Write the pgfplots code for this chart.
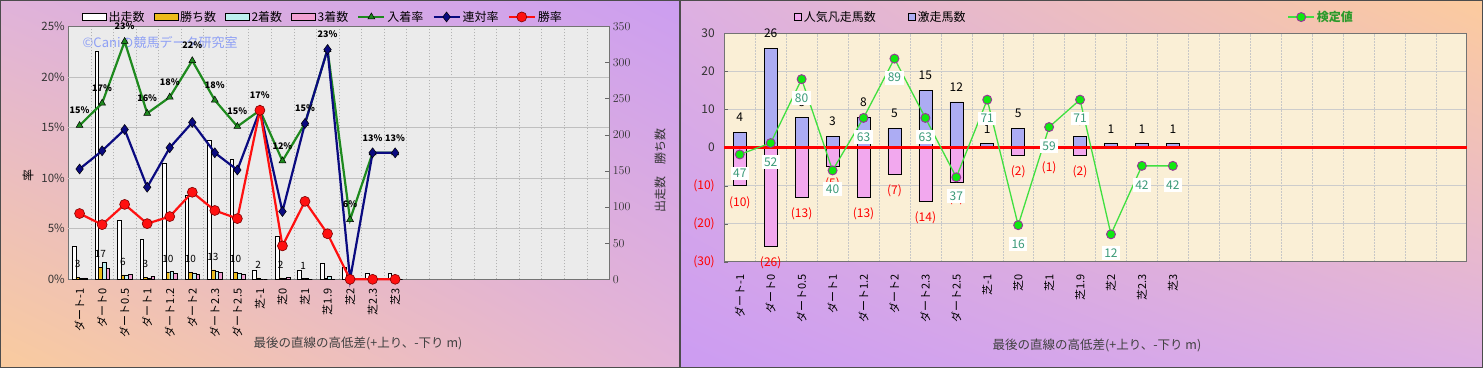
\documentclass[border=0pt]{standalone}
\usepackage{fontspec}
\setmainfont{Noto Sans CJK JP}
\usepackage{pgfplots}
\pgfplotsset{compat=1.18}
\usepackage{pgfplotstable}
\usetikzlibrary{shadings}

\definecolor{plotgrey}{HTML}{EBEBEB}
\definecolor{cream}{HTML}{FAEFD6}
\definecolor{barGold}{HTML}{EDBB1A}
\definecolor{barCyan}{HTML}{BDEFEF}
\definecolor{barPink}{HTML}{F2A0D2}
\definecolor{lnGreen}{HTML}{1E8A1E}
\definecolor{lnNavy}{HTML}{0A0A80}
\definecolor{lnRed}{HTML}{FF1010}
\definecolor{wm}{HTML}{8FA0F5}
\definecolor{kLine}{HTML}{40E040}
\definecolor{kFill}{HTML}{10E810}
\definecolor{kEdge}{HTML}{993399}
\definecolor{kText}{HTML}{3A9A78}
\definecolor{bBlue}{HTML}{ACACF3}
\definecolor{bPink}{HTML}{F2A8EE}
\definecolor{lgGreen}{HTML}{2A9A2A}
\definecolor{tickgrey}{HTML}{333333}
\definecolor{lpUL}{HTML}{E0B3DA}
\definecolor{lpUR}{HTML}{CC9EF0}
\definecolor{lpLL}{HTML}{F9CB9E}
\definecolor{lpLR}{HTML}{E4B4D8}
\definecolor{rpUL}{HTML}{DDB0E2}
\definecolor{rpUR}{HTML}{FCCB9E}
\definecolor{rpLL}{HTML}{CC9CF2}
\definecolor{rpLR}{HTML}{DEB0E4}

\pgfplotsset{
  barleg/.style={legend image code/.code={\draw[##1] (0pt,-3.5pt) rectangle (24pt,3.5pt);}},
  sqleg/.style={legend image code/.code={\draw[##1] (0pt,-3.5pt) rectangle (7pt,3.5pt);}},
  lineleg/.style={legend image code/.code={\draw[mark repeat=2,mark phase=2,##1] plot coordinates {(0pt,0pt) (13pt,0pt) (26pt,0pt)};}},
}

\pgfplotstableread{
x starts wins second third winr rentai inchaku wl il
0 46 3 2 2 6.5 10.9 15.2 3 15
1 316 17 23 15 5.4 12.7 17.4 17 17
2 81 6 6 7 7.4 14.8 23.5 6 23
3 55 3 2 4 5.5 9.1 16.4 3 16
4 161 10 11 8 6.2 13.0 18.0 10 18
5 116 10 8 7 8.6 15.5 21.6 10 22
6 192 13 11 10 6.8 12.5 17.7 13 18
7 166 10 8 7 6.0 10.8 15.1 10 15
8 12 2 0 0 16.7 16.7 16.7 2 17
9 60 2 2 3 3.3 6.7 11.7 2 12
10 13 1 1 0 7.7 15.4 15.4 1 15
11 22 1 4 0 4.5 22.7 22.7 {} 23
12 17 0 0 1 0 0 5.9 {} 6
13 8 0 1 0 0 12.5 12.5 {} 13
14 8 0 1 0 0 12.5 12.5 {} 13
}\leftdata

\pgfplotstableread{
x gekiso bonso kentei gl bl
0 4 10 47 4 (10)
1 26 26 52 26 (26)
2 8 13 80 8 (13)
3 3 5 40 3 (5)
4 8 13 63 8 (13)
5 5 7 89 5 (7)
6 15 14 63 15 (14)
7 12 9 37 12 (9)
8 1 0 71 1 {}
9 5 2 16 5 (2)
10 0 1 59 {} (1)
11 3 2 71 3 (2)
12 1 0 12 1 {}
13 1 0 42 1 {}
14 1 0 42 1 {}
}\rightdata

\begin{document}
\begin{tikzpicture}
\path[use as bounding box] (0pt,0pt) rectangle (1483pt,369pt);
\shade[upper left=lpUL, upper right=lpUR, lower left=lpLL, lower right=lpLR] (0pt,1pt) rectangle (679pt,368pt);
\draw[black!70, line width=1pt] (0.5pt,1pt) rectangle (679pt,368pt);
\shade[upper left=rpUL, upper right=rpUR, lower left=rpLL, lower right=rpLR] (680pt,1pt) rectangle (1482.5pt,368pt);
\draw[black!70, line width=1pt] (680pt,1pt) rectangle (1482.5pt,368pt);

% ---------------- left chart: bars (counts, right axis)
\begin{axis}[
  at={(68.3pt,89.7pt)}, anchor=south west, scale only axis,
  width=541pt, height=253pt,
  xmin=-0.5, xmax=23.5, ymin=0, ymax=350,
  axis background/.style={fill=plotgrey},
  axis line style={draw=black!55, line width=0.8pt},
  xtick={0,...,14},
  xticklabels={ダート-1,ダート0,ダート0.5,ダート1,ダート1.2,ダート2,ダート2.3,ダート2.5,芝-1,芝0,芝1,芝1.9,芝2,芝2.3,芝3},
  xticklabel style={rotate=90, anchor=east, font=\fontsize{11}{12}\selectfont, text=black},
  x tick style={draw=none},
  xticklabel shift=2pt,
  minor xtick={0.5,1.5,...,22.5},
  xminorgrids=true,
  minor x grid style={black!30, dash pattern=on 1.5pt off 1.5pt},
  ytick={0,50,...,350},
  ytick pos=right, yticklabel pos=right,
  y tick style={draw=black!60},
  tick align=inside, major tick length=4pt,
  yticklabel style={font=\fontsize{11.5}{12}\selectfont, text=tickgrey},
  extra y ticks={70,140,210,280},
  extra y tick labels={},
  extra y tick style={grid=major, major grid style={black!25, line width=0.6pt}, major tick length=0pt},
  ylabel={出走数　勝ち数},
  ylabel style={at={(axis description cs:1.094,0.432)}, anchor=center, font=\fontsize{12}{12}\selectfont, text=tickgrey},
  xlabel={最後の直線の高低差(+上り、-下り m)},
  xlabel style={at={(axis description cs:0.5355,-0.2518)}, anchor=center, font=\fontsize{12.5}{13}\selectfont, text=black!75},
  ybar=0pt, bar width=0.163,
]
\addplot[fill=white, draw=black, line width=0.5pt] table[x=x, y=starts]{\leftdata};
\addplot[fill=barGold, draw=black, line width=0.4pt,
  nodes near coords, point meta=explicit symbolic,
  every node near coord/.append style={anchor=south, yshift=6pt, font=\fontsize{10}{10}\selectfont, text=black}]
  table[x=x, y=wins, meta=wl]{\leftdata};
\addplot[fill=barCyan, draw=black, line width=0.4pt] table[x=x, y=second]{\leftdata};
\addplot[fill=barPink, draw=black, line width=0.4pt] table[x=x, y=third]{\leftdata};
\node[anchor=west, text=wm, font=\fontsize{13}{13}\selectfont] at (rel axis cs:0.02,0.934) {©Caniの競馬データ研究室};
\end{axis}

% ---------------- left chart: rates (left axis)
\begin{axis}[
  at={(68.3pt,89.7pt)}, anchor=south west, scale only axis,
  width=541pt, height=253pt,
  xmin=-0.5, xmax=23.5, ymin=0, ymax=25,
  axis line style={draw=none},
  xtick=\empty,
  ytick={0,5,...,25}, yticklabels={0\%,5\%,10\%,15\%,20\%,25\%},
  ytick pos=left, major tick length=0pt,
  yticklabel style={font=\fontsize{11.5}{12}\selectfont, text=tickgrey},
  ylabel={率},
  ylabel style={at={(axis description cs:-0.0745,0.412)}, anchor=center, font=\fontsize{12}{12}\selectfont},
  clip=false,
  lineleg,
  legend columns=7,
  legend style={at={(axis description cs:0.471,1.037)}, anchor=center, draw=none, fill=none,
    font=\fontsize{12}{12}\selectfont, inner sep=0pt,
    /tikz/every even column/.append style={column sep=7pt}},
]
\addlegendimage{barleg, fill=white, draw=black}
\addlegendentry{出走数}
\addlegendimage{barleg, fill=barGold, draw=black}
\addlegendentry{勝ち数}
\addlegendimage{barleg, fill=barCyan, draw=black}
\addlegendentry{2着数}
\addlegendimage{barleg, fill=barPink, draw=black}
\addlegendentry{3着数}
\addplot[lnGreen, line width=2.2pt, mark=triangle*, mark size=4pt,
  mark options={fill=lnGreen, draw=black, line width=0.5pt},
  nodes near coords={\pgfplotspointmeta\%}, point meta=explicit symbolic,
  every node near coord/.append style={anchor=south, yshift=8pt, font=\bfseries\fontsize{9}{9}\selectfont, text=black}]
  table[x=x, y=inchaku, meta=il]{\leftdata};
\addlegendentry{入着率}
\addplot[lnNavy, line width=2.2pt, mark=diamond*, mark size=5pt,
  mark options={fill=lnNavy, draw=black, line width=0.5pt}]
  table[x=x, y=rentai]{\leftdata};
\addlegendentry{連対率}
\addplot[lnRed, line width=2.2pt, mark=*, mark size=5pt,
  mark options={fill=lnRed, draw=red!50!black, line width=0.6pt}]
  table[x=x, y=winr]{\leftdata};
\addlegendentry{勝率}
\end{axis}

% ---------------- right chart: bars
\begin{axis}[
  at={(724.3pt,107.3pt)}, anchor=south west, scale only axis,
  width=742.4pt, height=228.2pt,
  xmin=-0.5, xmax=23.5, ymin=-30, ymax=30,
  axis background/.style={fill=cream},
  axis line style={draw=black!55, line width=0.8pt},
  xtick={0,...,14},
  xticklabels={ダート-1,ダート0,ダート0.5,ダート1,ダート1.2,ダート2,ダート2.3,ダート2.5,芝-1,芝0,芝1,芝1.9,芝2,芝2.3,芝3},
  xticklabel style={rotate=90, anchor=east, font=\fontsize{11}{12}\selectfont, text=black},
  x tick style={draw=none},
  xticklabel shift=5pt,
  minor xtick={0.5,1.5,...,22.5},
  xminorgrids=true,
  minor x grid style={black!22, dash pattern=on 1.5pt off 1.5pt},
  ytick={-30,-20,...,30},
  yticklabels={\textcolor{red}{(30)},\textcolor{red}{(20)},\textcolor{red}{(10)},0,10,20,30},
  ytick pos=left,
  ymajorgrids=true, major grid style={black!20, line width=0.6pt},
  y tick style={draw=black!60},
  tick align=inside, major tick length=4pt,
  yticklabel style={font=\fontsize{12}{12}\selectfont, text=tickgrey, xshift=-6pt},
  xlabel={最後の直線の高低差(+上り、-下り m)},
  xlabel style={at={(axis description cs:0.502,-0.365)}, anchor=center, font=\fontsize{12.5}{13}\selectfont, text=black!75},
  ybar, bar width=0.42,
  legend columns=2,
  legend style={at={(axis description cs:0.211,1.072)}, anchor=center, draw=none, fill=none,
    font=\fontsize{12}{12}\selectfont, inner sep=0pt,
    /tikz/every even column/.append style={column sep=30pt}},
]
\addplot[bar shift=0pt, sqleg, draw=black, line width=0.6pt, fill=bPink,
  nodes near coords, point meta=explicit symbolic,
  every node near coord/.append style={anchor=north, yshift=-7pt, font=\fontsize{12}{12}\selectfont, text=red}]
  table[x=x, y expr=-\thisrow{bonso}, meta=bl]{\rightdata};
\addlegendentry{人気凡走馬数}
\addplot[bar shift=0pt, sqleg, draw=black, line width=0.6pt, fill=bBlue,
  nodes near coords, point meta=explicit symbolic,
  every node near coord/.append style={anchor=south, yshift=7pt, font=\fontsize{12}{12}\selectfont, text=black}]
  table[x=x, y=gekiso, meta=gl]{\rightdata};
\addlegendentry{激走馬数}
\end{axis}

% ---------------- right chart: zero line and test values
\begin{axis}[
  at={(724.3pt,107.3pt)}, anchor=south west, scale only axis,
  width=742.4pt, height=228.2pt,
  xmin=-0.5, xmax=23.5, ymin=-30, ymax=30,
  axis line style={draw=none},
  xtick=\empty, ytick=\empty,
  clip=false,
  lineleg,
  legend style={at={(axis description cs:0.804,1.072)}, anchor=center, draw=none, fill=none,
    font=\fontsize{12}{12}\selectfont, inner sep=0pt},
]
\addplot[red, line width=2.5pt, forget plot] coordinates {(-0.5,0) (23.5,0)};
\addplot[kLine, line width=1.3pt, mark=*, mark size=4.5pt,
  mark options={fill=kFill, draw=kEdge, line width=0.9pt},
  nodes near coords, point meta=explicit symbolic,
  every node near coord/.append style={anchor=center, yshift=-19pt, fill=white, inner sep=2.5pt, font=\fontsize{12}{12}\selectfont, text=kText}]
  table[x=x, y expr=(\thisrow{kentei}-50)*0.6, meta=kentei]{\rightdata};
\addlegendentry{\textcolor{lgGreen}{\bfseries 検定値}}
\end{axis}
\end{tikzpicture}
\end{document}
